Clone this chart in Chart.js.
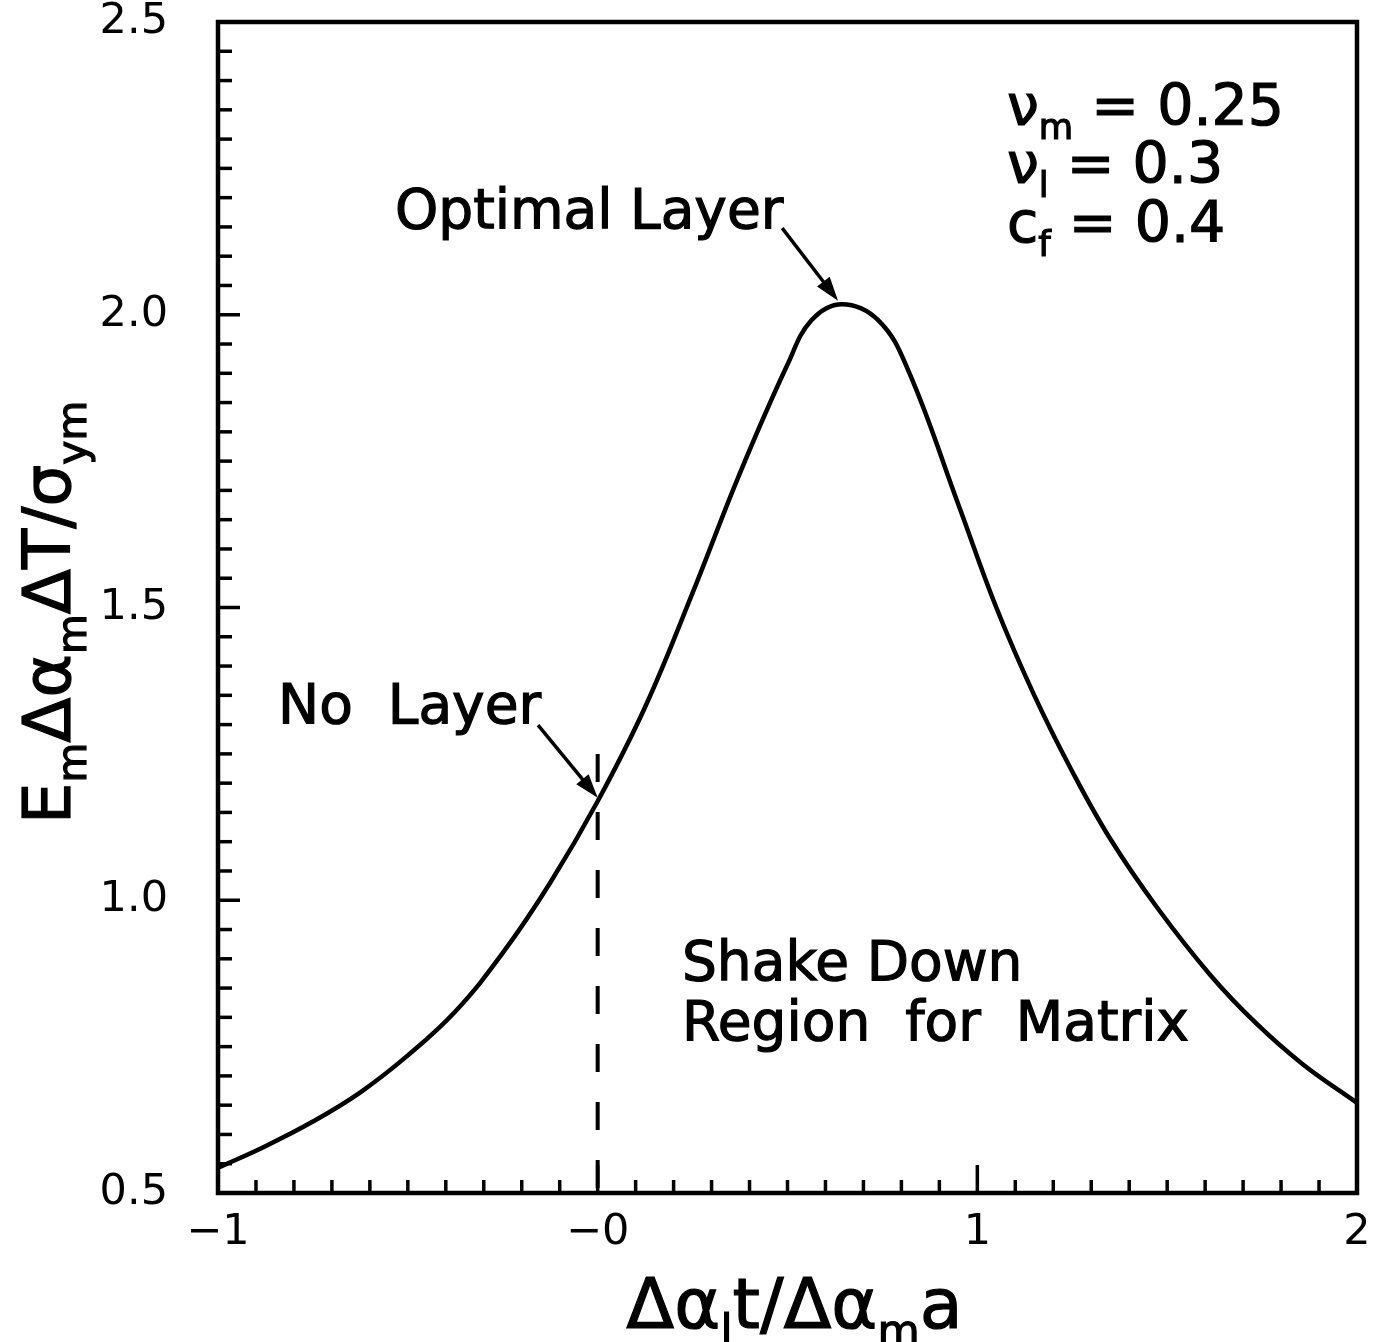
<!DOCTYPE html>
<html>
<head>
<meta charset="utf-8">
<title>Shake down limit vs. layer parameter</title>
<script src="https://cdn.jsdelivr.net/npm/chart.js@4.4.1/dist/chart.umd.min.js"></script>
<style>
  html, body { margin: 0; padding: 0; background: #fff; }
  #wrap { width: 1391px; height: 1342px; position: relative; }
</style>
</head>
<body>
<div id="wrap"><canvas id="chart"></canvas></div>
<script>
// curve
const curveX = [-1.0, -0.875, -0.75, -0.625, -0.5, -0.375, -0.25, -0.125, 0.0, 0.125, 0.25, 0.375, 0.5, 0.5625, 0.643, 0.74, 0.818, 0.95, 1.05, 1.15, 1.25, 1.35, 1.473, 1.614, 1.734, 1.857, 2.0];
const curveY = [0.543, 0.58, 0.622, 0.672, 0.735, 0.81, 0.91, 1.03, 1.169, 1.33, 1.525, 1.73, 1.915, 1.99, 2.018, 1.99, 1.905, 1.676, 1.5, 1.35, 1.22, 1.105, 0.988, 0.872, 0.79, 0.72, 0.654];

// dashed "no layer" marker
const cutoffX = [0, 0];
const cutoffY = [1.25, 0.5];

const xLabelValues = [-1, 0, 1, 2];
const xLabelText = ["\u22121", "\u22120", "1", "2"];
const yLabelValues = [0.5, 1.0, 1.5, 2.0, 2.5];
const yLabelText = ["0.5", "1.0", "1.5", "2.0", "2.5"];

const FONT = '"DejaVu Sans", sans-serif';

const notes = [
  { text: "Optimal Layer", x: -0.534, y: 2.148 },
  { text: "No  Layer", x: -0.842, y: 1.303 },
  { text: "Shake Down", x: 0.222, y: 0.864 },
  { text: "Region  for  Matrix", x: 0.222, y: 0.761 },
];

const arrows = [
  { from: [0.486, 2.148], to: [0.633, 2.024] },
  { from: [-0.157, 1.299], to: [0.0, 1.175] },
];

const params = [
  { parts: [{ t: "\u03bd" }, { t: "m", sub: true }, { t: " = 0.25" }], x: 1.078, y: 2.324 },
  { parts: [{ t: "\u03bd" }, { t: "l", sub: true }, { t: " = 0.3" }], x: 1.078, y: 2.225 },
  { parts: [{ t: "c" }, { t: "f", sub: true }, { t: " = 0.4" }], x: 1.078, y: 2.124 },
];

function labelFor(value, values, texts) {
  const i = values.findIndex((v) => Math.abs(v - value) < 1e-6);
  return i >= 0 ? texts[i] : "";
}

function richWidth(ctx, parts, size) {
  let w = 0;
  parts.forEach((p) => {
    ctx.font = `${p.sub ? size * 0.62 : size}px ${FONT}`;
    w += ctx.measureText(p.t).width;
  });
  return w;
}

function drawRich(ctx, parts, x, y, size) {
  let cx = x;
  parts.forEach((p) => {
    const s = p.sub ? size * 0.62 : size;
    ctx.font = `${s}px ${FONT}`;
    const yy = p.sub ? y + size * 0.24 : y;
    ctx.fillText(p.t, cx, yy);
    ctx.strokeText(p.t, cx, yy);
    cx += ctx.measureText(p.t).width;
  });
}

function drawArrow(ctx, x1, y1, x2, y2) {
  const ang = Math.atan2(y2 - y1, x2 - x1);
  const head = 24;
  const half = 8;
  ctx.beginPath();
  ctx.moveTo(x1, y1);
  ctx.lineTo(x2 - Math.cos(ang) * head * 0.8, y2 - Math.sin(ang) * head * 0.8);
  ctx.stroke();
  ctx.beginPath();
  ctx.moveTo(x2, y2);
  ctx.lineTo(x2 - head * Math.cos(ang) + half * Math.sin(ang), y2 - head * Math.sin(ang) - half * Math.cos(ang));
  ctx.lineTo(x2 - head * Math.cos(ang) - half * Math.sin(ang), y2 - head * Math.sin(ang) + half * Math.cos(ang));
  ctx.closePath();
  ctx.fill();
}

const paperPlugin = {
  id: "paper",
  beforeDraw(chart) {
    const ctx = chart.ctx;
    ctx.save();
    ctx.fillStyle = "#fff";
    ctx.fillRect(0, 0, chart.width, chart.height);
    ctx.restore();
  },
  afterDatasetsDraw(chart) {
    const { ctx, chartArea: a, scales } = chart;
    ctx.save();
    ctx.strokeStyle = "#000";
    ctx.fillStyle = "#000";
    ctx.lineCap = "butt";

    // inward tick marks
    ctx.lineWidth = 3.5;
    scales.x.ticks.forEach((t) => {
      const px = scales.x.getPixelForValue(t.value);
      if (px <= a.left + 2 || px >= a.right - 2) return;
      const major = Math.abs(t.value - Math.round(t.value)) < 1e-6;
      ctx.beginPath();
      ctx.moveTo(px, a.bottom);
      ctx.lineTo(px, a.bottom - (major ? 28 : 13));
      ctx.stroke();
    });
    scales.y.ticks.forEach((t) => {
      const py = scales.y.getPixelForValue(t.value);
      if (py <= a.top + 2 || py >= a.bottom - 2) return;
      const major = Math.abs(t.value * 2 - Math.round(t.value * 2)) < 1e-6;
      ctx.beginPath();
      ctx.moveTo(a.left, py);
      ctx.lineTo(a.left + (major ? 22 : 14), py);
      ctx.stroke();
    });

    // frame
    ctx.lineWidth = 4.5;
    ctx.strokeRect(a.left, a.top, a.right - a.left, a.bottom - a.top);

    // arrows
    ctx.lineWidth = 3.5;
    arrows.forEach((ar) => {
      drawArrow(
        ctx,
        scales.x.getPixelForValue(ar.from[0]), scales.y.getPixelForValue(ar.from[1]),
        scales.x.getPixelForValue(ar.to[0]), scales.y.getPixelForValue(ar.to[1])
      );
    });
    ctx.restore();
  },
  afterDraw(chart) {
    const { ctx, chartArea: a, scales } = chart;
    ctx.save();
    ctx.fillStyle = "#000";
    ctx.strokeStyle = "#000";
    ctx.lineWidth = 1.2;
    ctx.textBaseline = "alphabetic";
    ctx.textAlign = "left";

    ctx.font = `55px ${FONT}`;
    notes.forEach((n) => {
      const px = scales.x.getPixelForValue(n.x);
      const py = scales.y.getPixelForValue(n.y);
      ctx.fillText(n.text, px, py);
      ctx.strokeText(n.text, px, py);
    });

    params.forEach((p) => {
      drawRich(ctx, p.parts, scales.x.getPixelForValue(p.x), scales.y.getPixelForValue(p.y), 57);
    });

    // x axis title
    const xTitle = [{ t: "\u0394\u03b1" }, { t: "l", sub: true }, { t: "t/\u0394\u03b1" }, { t: "m", sub: true }, { t: "a" }];
    const xw = richWidth(ctx, xTitle, 70);
    drawRich(ctx, xTitle, (a.left + a.right) / 2 + 7 - xw / 2, 1328, 70);

    // y axis title, rotated
    const yTitle = [{ t: "E" }, { t: "m", sub: true }, { t: "\u0394\u03b1" }, { t: "m", sub: true }, { t: "\u0394T/\u03c3" }, { t: "ym", sub: true }];
    const yw = richWidth(ctx, yTitle, 66);
    ctx.translate(70, (a.top + a.bottom) / 2 + 5);
    ctx.rotate(-Math.PI / 2);
    drawRich(ctx, yTitle, -yw / 2, 0, 66);
    ctx.restore();
  },
};

const ctx = document.getElementById("chart");
new Chart(ctx, {
  type: "line",
  data: {
    datasets: [
      {
        label: "Shake down limit",
        data: curveX.map((x, i) => ({ x, y: curveY[i] })),
        borderColor: "#000",
        borderWidth: 4.5,
        pointRadius: 0,
        tension: 0.4,
        fill: false,
      },
      {
        label: "No layer",
        data: cutoffX.map((x, i) => ({ x, y: cutoffY[i] })),
        borderColor: "#000",
        borderWidth: 4,
        borderDash: [28, 30],
        pointRadius: 0,
        fill: false,
      },
    ],
  },
  options: {
    responsive: true,
    maintainAspectRatio: false,
    animation: false,
    layout: { padding: { top: 22, right: 34, left: 0, bottom: 0 } },
    plugins: {
      legend: { display: false },
      tooltip: { enabled: false },
    },
    scales: {
      x: {
        type: "linear",
        min: -1,
        max: 2,
        afterFit: (scale) => {
          scale.height = 149;
          scale.paddingLeft = 0;
          scale.paddingRight = 0;
        },
        grid: { display: false, drawTicks: false },
        border: { display: false },
        ticks: {
          stepSize: 0.1,
          autoSkip: false,
          maxRotation: 0,
          padding: 14,
          color: "#000",
          font: { family: "DejaVu Sans", size: 43 },
          callback: (v) => labelFor(v, xLabelValues, xLabelText),
        },
      },
      y: {
        type: "linear",
        min: 0.5,
        max: 2.5,
        afterFit: (scale) => {
          scale.width = 218;
          scale.paddingTop = 0;
          scale.paddingBottom = 0;
        },
        grid: { display: false, drawTicks: false },
        border: { display: false },
        ticks: {
          stepSize: 0.05,
          autoSkip: false,
          padding: 50,
          color: "#000",
          font: { family: "DejaVu Sans", size: 43 },
          callback: (v) => labelFor(v, yLabelValues, yLabelText),
        },
      },
    },
  },
  plugins: [paperPlugin],
});
</script>
</body>
</html>
